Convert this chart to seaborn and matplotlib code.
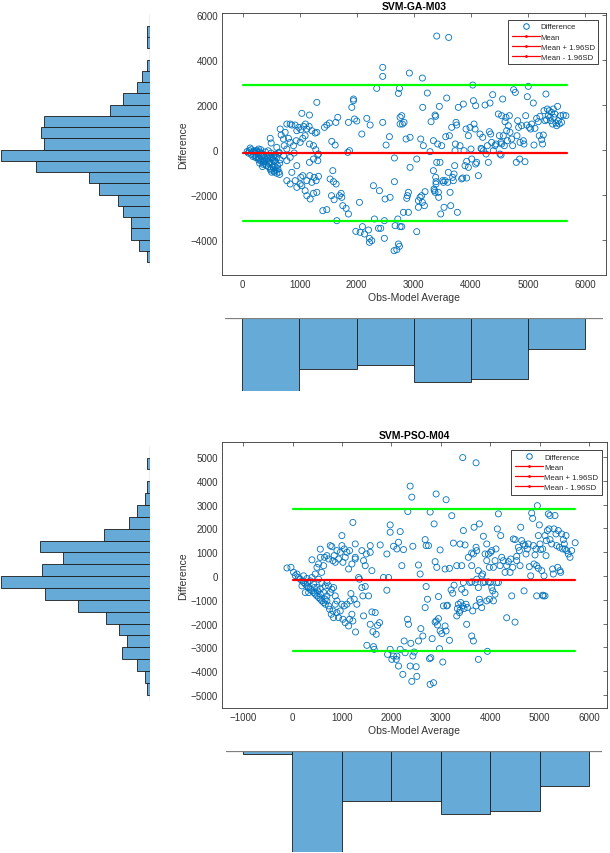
import numpy as np
import pandas as pd
import matplotlib
matplotlib.use('Agg')
import matplotlib.pyplot as plt
from matplotlib.lines import Line2D
import seaborn as sns

# ---- data ----
# SVM-GA-M03: (obs-model average, difference)
ga_points = [
    (80, -80), (100, -150), (120, -50), (134, 74), (150, 0), (150, -200), (180, -100), (180, -300),
    (200, -250), (200, -50), (220, -150), (230, -350), (240, -300), (240, -50), (250, -50), (270, -350),
    (270, -100), (280, 30), (280, -200), (280, -450), (300, -400), (300, -100), (300, -600), (320, 0),
    (320, -500), (330, -300), (330, -150), (350, -450), (350, -200), (350, -750), (360, -650), (370, -550),
    (380, -350), (380, -500), (400, -650), (400, -100), (420, -450), (420, -700), (430, -250), (440, -400),
    (450, -750), (450, -50), (460, -600), (470, -550), (470, -250), (480, -350), (485, 504), (490, -900),
    (500, -850), (500, -150), (502, 296), (510, -1000), (510, -350), (520, -650), (530, -450), (540, -800),
    (543, -341), (550, -950), (550, -250), (550, -500), (560, -1000), (570, -750), (580, -550), (580, -200),
    (590, -900), (600, -1050), (600, -350), (600, 104), (610, -700), (620, -850), (630, -150), (640, -1000),
    (642, -118), (650, -1100), (650, -600), (660, -450), (660, 918), (677, 652), (718, 474), (718, -267),
    (730, 178), (747, 770), (776, 1140), (776, 30), (776, -489), (776, -1377), (805, 504), (835, 1140),
    (835, 326), (835, -341), (835, -1525), (864, 1096), (864, -1007), (893, 178), (905, -148), (922, 1096),
    (922, -1377), (940, 400), (951, 844), (951, -711), (951, -1674), (986, 992), (1010, 326), (1010, -1525),
    (1021, 888), (1021, -1229), (1039, 1614), (1039, -1600), (1056, 504), (1056, -1155), (1068, 1037),
    (1097, 622), (1097, -1822), (1103, 1140), (1127, 918), (1127, -1377), (1127, -2044), (1167, 1037),
    (1173, 1540), (1173, 252), (1173, -563), (1179, -1155), (1185, -2192), (1214, 844), (1214, -1451),
    (1243, 178), (1243, -415), (1243, -1940), (1255, -1229), (1272, 740), (1284, 0), (1290, -1377),
    (1302, 770), (1302, 2103), (1302, -1896), (1319, -237), (1319, -489), (1331, -1185), (1331, -193),
    (1407, -2710), (1436, 992), (1477, 1096), (1477, -2666), (1523, 1185), (1535, -1303), (1559, -2044),
    (1564, 370), (1582, -933), (1594, -1422), (1605, -2222), (1623, 207), (1635, 1214), (1640, -1525),
    (1652, -3155), (1669, 1437), (1699, -2044), (1728, -1940), (1740, -2118), (1757, -2488), (1815, -2607),
    (1845, -118), (1856, 1214), (1856, -2858), (1874, -44), (1915, 1881), (1944, 2251), (1944, 2177),
    (1962, 1363), (1985, -3629), (2002, 1274), (2049, -2340), (2061, -3673), (2090, 696), (2102, -3421),
    (2137, -3747), (2178, 1392), (2207, -3570), (2224, -3940), (2224, -4118), (2236, 1096), (2265, -4044),
    (2294, -1600), (2311, -3081), (2352, 2725), (2382, -3495), (2399, -1822), (2422, -3495), (2457, 1214),
    (2457, 3658), (2457, 3258), (2486, -3940), (2486, -3155), (2498, -2192), (2516, 207), (2574, 578),
    (2586, -2118), (2656, -4488), (2662, -370), (2662, -1422), (2674, -3377), (2703, -4444), (2721, -3081),
    (2732, 2503), (2732, -4192), (2750, 2725), (2750, -4296), (2761, 1437), (2761, 1140), (2761, -3421),
    (2790, 1511), (2790, -3421), (2802, 1140), (2820, -2784), (2831, 1214), (2866, 474), (2878, -2162),
    (2890, -2044), (2907, -1896), (2907, -2784), (2924, 3406), (2936, 548), (2936, -785), (3053, -415),
    (3053, -3643), (3082, -2562), (3082, -2266), (3111, -2118), (3123, 474), (3140, -2044), (3152, -2340),
    (3152, 3184), (3158, 1881), (3169, 178), (3187, -2488), (3198, -1866), (3239, 2518), (3286, -89),
    (3304, 1244), (3345, 400), (3345, -933), (3356, -1748), (3362, -1822), (3374, -1896), (3374, 1540),
    (3385, 1481), (3385, -1229), (3391, -1422), (3391, -1525), (3403, -563), (3403, 5050), (3420, 252),
    (3432, -1896), (3438, -2118), (3449, 1925), (3461, -563), (3473, -2858), (3490, 178), (3508, -1377),
    (3520, -1451), (3531, -2562), (3549, -1377), (3561, 578), (3578, 2296), (3596, -1451), (3607, -1007),
    (3613, 4990), (3625, 622), (3637, -1896), (3648, -2488), (3666, 992), (3683, -1229), (3695, -1377),
    (3707, -1081), (3718, -711), (3724, -44), (3730, 252), (3742, 1214), (3753, 1096), (3765, -2784),
    (3782, 1881), (3812, 178), (3840, -1300), (3858, -1259), (3870, 2029), (3882, -44), (3899, -711),
    (3917, 918), (3928, -519), (3928, -1259), (3958, -785), (3958, 622), (3987, 992), (4004, 30),
    (4016, -415), (4034, 2873), (4046, 2177), (4057, 1140), (4075, 918), (4086, 1955), (4086, -637),
    (4104, -563), (4133, -1155), (4162, 696), (4180, 59), (4191, 30), (4209, 548), (4221, -44), (4250, 1985),
    (4268, -192), (4291, 178), (4308, -563), (4326, 800), (4337, 2074), (4349, 696), (4366, 326),
    (4384, 2444), (4396, -44), (4425, 178), (4442, 252), (4483, 1585), (4501, 622), (4512, -192),
    (4530, 326), (4530, -237), (4541, 1511), (4541, 252), (4559, 2251), (4570, 622), (4588, 178),
    (4600, 1244), (4617, 1437), (4629, 844), (4641, 400), (4658, 1066), (4676, 1511), (4687, 770),
    (4716, 474), (4734, 178), (4751, 2666), (4781, 2547), (4798, -563), (4810, 622), (4822, 1289),
    (4839, 992), (4857, -415), (4863, 326), (4892, 1066), (4921, 400), (4933, 252), (4950, -533),
    (4962, 1511), (4980, 1096), (4991, 2355), (5008, 2814), (5026, 992), (5049, 918), (5067, 1140),
    (5096, 2074), (5108, 207), (5125, 948), (5154, 1392), (5183, 1244), (5200, 622), (5212, 1481),
    (5242, 444), (5259, 252), (5271, 652), (5283, 1733), (5300, 1289), (5317, 2473), (5329, 1333),
    (5341, 1807), (5358, 1511), (5375, 1733), (5387, 1437), (5399, 1289), (5416, 1659), (5434, 1140),
    (5446, 1807), (5457, 1437), (5475, 1585), (5492, 1185), (5504, 1066), (5521, 1925), (5533, 1289),
    (5551, 1140), (5574, 1511), (5591, 1214), (5621, 1540), (5667, 1511),
]
ga_mean, ga_upper, ga_lower = -150, 2870, -3190
ga_line_x = [0, 5680]
ga_ydiff_edges = list(range(-5000, 5501, 500))
ga_ydiff_counts = [1, 4, 7, 7, 10, 12, 19, 23, 43, 56, 40, 41, 40, 15, 10, 5, 3, 1, 0, 1, 1]
ga_xavg_edges = list(range(0, 6001, 1000))
ga_xavg_counts = [76, 53, 49, 67, 64, 32]

# SVM-PSO-M04
pso_points = [
    (-115, 337), (-34, 365), (20, 154), (54, 14), (88, 84), (121, -63), (155, -133), (189, -204),
    (189, -414), (222, -274), (222, 7), (256, -344), (256, -695), (290, -414), (290, -105), (304, -274),
    (324, -485), (324, -695), (357, -555), (357, -204), (391, -625), (391, -63), (391, 681), (425, -695),
    (425, -344), (438, -485), (458, -765), (458, 84), (492, -836), (492, -485), (492, 365), (506, -625),
    (526, -906), (526, -133), (526, 506), (560, -976), (560, -555), (560, -765), (560, 786), (560, 1130),
    (587, 154), (593, -1046), (593, -274), (627, -1116), (627, -695), (627, 435), (647, 786), (661, -1186),
    (661, -414), (661, -976), (694, -836), (694, 857), (694, -1046), (694, -274), (728, -1257), (728, 716),
    (728, -414), (748, -1397), (762, 1278), (762, -695), (782, -1608), (795, 1236), (795, -555), (816, 646),
    (816, -1468), (829, -1749), (829, -485), (843, 857), (863, 576), (863, -1186), (863, -836), (897, 1067),
    (897, -1046), (897, -1538), (930, 716), (930, -1749), (964, 997), (964, -1468), (998, 1700), (998, 1278),
    (998, -1186), (1018, 576), (1018, -1819), (1045, 1138), (1045, -1257), (1065, 786), (1065, -1960),
    (1099, 997), (1099, -1186), (1133, 295), (1133, -2100), (1153, 1067), (1153, -1819), (1166, -1046),
    (1180, -737), (1200, 506), (1200, -1608), (1220, 2254), (1220, -1890), (1247, -976), (1268, 1348),
    (1268, 786), (1268, 716), (1274, -2353), (1301, -1186), (1335, -63), (1355, -133), (1402, 1067),
    (1402, -485), (1422, -836), (1436, 646), (1436, -1678), (1470, 435), (1470, -442), (1490, 927),
    (1503, -2914), (1537, -836), (1571, 1278), (1571, 997), (1571, -2030), (1605, 225), (1605, -1510),
    (1625, -2339), (1638, -2972), (1652, -3084), (1672, -1538), (1692, -2451), (1719, -2072), (1760, -1960),
    (1773, 1306), (1840, -63), (1908, 927), (1908, -597), (1922, -3295), (1942, -63), (1975, 1841),
    (1975, 2148), (1975, -3084), (2009, -3505), (2043, 1250), (2043, -3365), (2097, -3505), (2110, 1138),
    (2110, -3365), (2144, 1419), (2144, -3786), (2178, 1869), (2178, -3084), (2211, 435), (2231, -4136),
    (2245, 1110), (2258, -2732), (2278, -3224), (2326, -1819), (2333, 2712), (2346, -2030), (2380, 3780),
    (2380, -3786), (2393, -2830), (2413, 3316), (2413, -4430), (2434, 1250), (2434, -3365), (2461, -3196),
    (2501, -3814), (2515, -4220), (2548, 463), (2548, -2732), (2582, 84), (2596, -2213), (2636, -2522),
    (2683, 1531), (2683, -1327), (2703, 1278), (2703, -442), (2730, -976), (2751, 1278), (2771, -3477),
    (2784, 2690), (2784, -4557), (2798, -3435), (2825, -2634), (2852, -4487), (2865, 2191), (2885, 604),
    (2885, -1939), (2905, 3449), (2905, -1890), (2919, 365), (2932, -2058), (2953, -1791), (2953, -864),
    (2973, -3056), (2986, 1096), (2986, -2311), (3020, -2423), (3040, -3617), (3053, -1257), (3087, 295),
    (3087, -2100), (3107, 3209), (3107, -2311), (3121, -1257), (3134, -1229), (3175, 323), (3175, -2704),
    (3208, -583), (3222, 2536), (3242, -723), (3255, 1384), (3269, -386), (3323, 435), (3323, -1678),
    (3336, -1369), (3356, -1186), (3377, -1538), (3390, 1348), (3390, -1440), (3403, -1116), (3423, 435),
    (3423, -555), (3444, 4980), (3444, -1257), (3457, 1911), (3457, -274), (3471, -1369), (3491, 1306),
    (3491, -695), (3511, -1186), (3524, -2030), (3538, -1327), (3558, 786), (3592, -274), (3626, 435),
    (3626, 969), (3626, -246), (3626, -2522), (3646, -1468), (3660, 927), (3660, -2732), (3674, 2051),
    (3694, -274), (3714, 1208), (3714, 4760), (3714, -1257), (3727, 1067), (3727, -133), (3761, 225),
    (3761, -485), (3761, -3505), (3781, 2191), (3781, -976), (3795, -1116), (3828, 7), (3828, -1327),
    (3848, 84), (3862, 1672), (3862, -274), (3896, 927), (3896, -246), (3930, 1348), (3930, 646),
    (3930, -1046), (3943, -3168), (3963, 927), (3963, -246), (3983, 365), (3983, -976), (3997, -274),
    (4010, 997), (4031, 1067), (4031, -485), (4051, -625), (4065, 365), (4065, -1046), (4098, 646),
    (4098, -765), (4118, 1138), (4132, -274), (4145, 1981), (4166, 2614), (4166, -274), (4200, 435),
    (4213, 1700), (4233, 786), (4267, 646), (4301, 154), (4334, 435), (4334, -1756), (4368, 604),
    (4402, 154), (4416, 716), (4436, -836), (4456, 365), (4469, 1559), (4503, 1531), (4503, -1939),
    (4537, 829), (4537, 646), (4570, 1208), (4590, 1067), (4604, 435), (4618, 2051), (4638, 1489),
    (4672, 1348), (4686, -625), (4705, 1278), (4725, 927), (4752, 1138), (4772, 1348), (4793, 393),
    (4820, 7), (4840, 2648), (4860, 2423), (4874, 1278), (4887, 506), (4907, 885), (4927, 1138),
    (4941, 435), (4941, -836), (4955, 2957), (4975, 1700), (4975, 323), (4995, 2148), (5009, 1348),
    (5023, 1110), (5043, 225), (5063, 1138), (5063, -807), (5076, -836), (5090, 7), (5110, 1700),
    (5110, -836), (5130, 857), (5137, 1489), (5157, 1911), (5177, 2614), (5191, 1981), (5211, 1531),
    (5211, 2544), (5245, 1348), (5265, 295), (5278, 84), (5292, 1981), (5312, 2544), (5332, 1770),
    (5346, 1278), (5366, 365), (5379, 1911), (5400, 1208), (5413, 225), (5427, 154), (5447, 1770),
    (5467, 1138), (5481, 1531), (5501, 1348), (5514, 1138), (5535, 1700), (5548, 1067), (5582, 927),
    (5616, 786), (5649, 1067), (5720, 1400),
]
pso_mean, pso_upper, pso_lower = -155, 2836, -3150
pso_line_x = [0, 5720]
pso_ydiff_edges = list(range(-5000, 5001, 500))
pso_ydiff_counts = [1, 2, 5, 11, 9, 12, 17, 28, 41, 58, 42, 34, 43, 18, 8, 5, 2, 1, 0, 1]
pso_xavg_edges = list(range(-1000, 6001, 1000))
pso_xavg_counts = [3, 95, 47, 47, 59, 56, 33]

BLUE = '#0072BD'
HIST_FC = '#66AAD7'
AX_C = '#333333'

sns.set_theme(style='white')
plt.rcParams['font.family'] = ['Liberation Sans', 'DejaVu Sans']

fig = plt.figure(figsize=(6.1, 8.54), dpi=100)
W, H = 610, 854


def px_axes(x0, y0, x1, y1):
    return fig.add_axes([x0 / W, 1 - y1 / H, (x1 - x0) / W, (y1 - y0) / H])


def bin_table(edges, counts):
    e = np.asarray(edges, dtype=float)
    return pd.DataFrame({'center': (e[:-1] + e[1:]) / 2, 'count': counts})


def panel(points, mean, upper, lower, line_x, title,
          main_box, xlim, ylim, xticks, yticks,
          left_box, left_ylim, y_edges, y_counts,
          bot_box, bot_xlim, x_edges, x_counts, leg_anchor):
    df = pd.DataFrame(points, columns=['avg', 'diff'])

    ax = px_axes(*main_box)
    sns.scatterplot(data=df, x='avg', y='diff', ax=ax, s=19, marker='o', legend=False)
    coll = ax.collections[-1]
    coll.set_facecolor('none')
    coll.set_edgecolor(BLUE)
    coll.set_linewidth(0.6)
    ax.plot(line_x, [mean, mean], color='red', lw=1.6, zorder=3)
    ax.plot(line_x, [upper, upper], color='#00FF00', lw=1.6, zorder=3)
    ax.plot(line_x, [lower, lower], color='#00FF00', lw=1.6, zorder=3)
    ax.set_xlim(*xlim)
    ax.set_ylim(*ylim)
    ax.set_xticks(xticks)
    ax.set_yticks(yticks)
    ax.tick_params(direction='in', length=3, width=0.5, top=True, right=True,
                   labelsize=7, colors=AX_C, pad=3)
    for sp in ax.spines.values():
        sp.set_color(AX_C)
        sp.set_linewidth(0.6)
    ax.set_xlabel('Obs-Model Average', fontsize=7.5, color=AX_C, labelpad=2)
    ax.set_ylabel('Difference', fontsize=7.5, color=AX_C, labelpad=2)
    ax.set_title(title, fontsize=7.5, fontweight='bold', color='black', pad=3)

    handles = [
        Line2D([], [], ls='none', marker='o', mfc='none', mec=BLUE, ms=4, mew=0.7),
        Line2D([], [], color='red', lw=0.9, marker='.', ms=2),
        Line2D([], [], color='red', lw=0.9, marker='.', ms=2),
        Line2D([], [], color='red', lw=0.9, marker='.', ms=2),
    ]
    leg = ax.legend(handles, ['Difference', 'Mean', 'Mean + 1.96SD', 'Mean - 1.96SD'],
                    loc='upper right', bbox_to_anchor=leg_anchor, fontsize=5.6,
                    frameon=True, fancybox=False, framealpha=1, edgecolor='#222222',
                    borderpad=0.45, labelspacing=0.35, handlelength=3.6, handletextpad=0.15,
                    borderaxespad=0)
    leg.get_frame().set_linewidth(0.6)

    # left histogram of differences (bars point left)
    axl = px_axes(*left_box)
    sns.histplot(data=bin_table(y_edges, y_counts), y='center', weights='count',
                 bins=y_edges, ax=axl, color=HIST_FC, alpha=1,
                 edgecolor='#1a1a1a', linewidth=0.6)
    axl.set_ylim(*left_ylim)
    w = left_box[2] - left_box[0]
    axl.set_xlim(max(y_counts) * w / (w - 1), 0)
    axl.set_axis_off()
    axl.axvline(0, color='#7f7f7f', lw=0.9)

    # bottom histogram of averages (bars point down)
    axb = px_axes(*bot_box)
    sns.histplot(data=bin_table(x_edges, x_counts), x='center', weights='count',
                 bins=x_edges, ax=axb, color=HIST_FC, alpha=1,
                 edgecolor='#1a1a1a', linewidth=0.6)
    axb.set_xlim(*bot_xlim)
    axb.set_ylim(max(x_counts), 0)
    axb.set_axis_off()
    axb.axhline(0, color='#7f7f7f', lw=0.9)


panel(ga_points, ga_mean, ga_upper, ga_lower, ga_line_x, 'SVM-GA-M03',
      (222, 14, 606, 276), (-360, 6370), (-5570, 6075),
      np.arange(0, 6001, 1000), np.arange(-4000, 6001, 2000),
      (0, 15, 150, 267), (-5170, 6030), ga_ydiff_edges, ga_ydiff_counts,
      (225, 319, 603, 392), (-303, 6317), ga_xavg_edges, ga_xavg_counts,
      (0.98, 0.975))

panel(pso_points, pso_mean, pso_upper, pso_lower, pso_line_x, 'SVM-PSO-M04',
      (222, 443, 607, 709), (-1430, 6365), (-5550, 5635),
      np.arange(-1000, 6001, 1000), np.arange(-5000, 5001, 1000),
      (0, 447, 150, 703), (-5310, 5490), pso_ydiff_edges, pso_ydiff_counts,
      (226, 752, 602, 853), (-1341, 6257), pso_xavg_edges, pso_xavg_counts,
      (0.986, 0.971))

fig.savefig('out.png', dpi=100)
